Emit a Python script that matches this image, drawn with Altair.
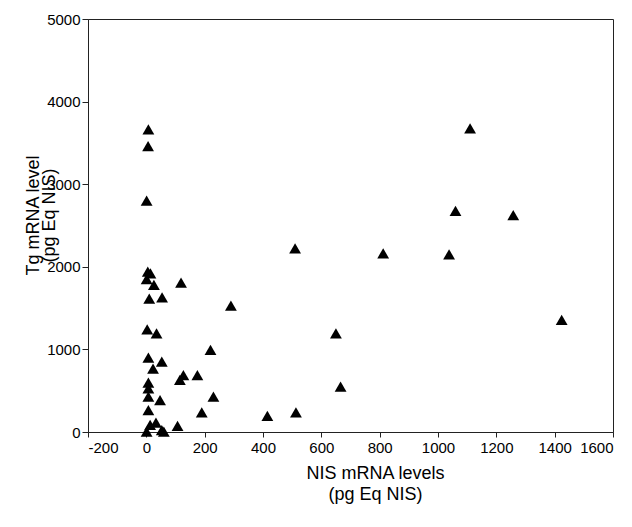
import altair as alt
import pandas as pd

# NIS mRNA levels (pg Eq NIS)
nis = [7, 6, 1, 5, 14, 1, 26, 119, 10, 54, 290, 3, 35, 220, 7, 53, 23,
       127, 115, 175, 7, 7, 7, 47, 230, 7, 190, 415, 107, 13, 33, 1, 53, 60,
       1110, 1060, 1258, 510, 812, 1038, 1424, 650, 666, 513]
# Tg mRNA level (pg Eq NIS)
tg = [3665, 3462, 2800, 1941, 1920, 1852, 1780, 1808, 1614, 1631, 1529, 1243, 1195, 993, 900, 851, 767,
      690, 630, 690, 597, 529, 428, 387, 428, 266, 238, 194, 73, 85, 113, 4, 24, 5,
      3677, 2676, 2627, 2224, 2163, 2151, 1356, 1195, 548, 238]

x_ticks = [-200, 0, 200, 400, 600, 800, 1000, 1200, 1400, 1600]
y_ticks = [0, 1000, 2000, 3000, 4000, 5000]

df = pd.DataFrame({"nis": nis, "tg": tg})

chart = alt.Chart(df).mark_point(
    shape="triangle-up", filled=True, size=140, color="black", opacity=1
).encode(
    x=alt.X("nis:Q",
            scale=alt.Scale(domain=[-200, 1600], nice=False, zero=False),
            axis=alt.Axis(values=x_ticks, labelExpr="'' + datum.value",
                          title=["NIS mRNA levels", "(pg Eq NIS)"],
                          titleX=287, titleY=32, titleBaseline="top",
                          titleLineHeight=21, tickSize=5, labelPadding=3)),
    y=alt.Y("tg:Q",
            scale=alt.Scale(domain=[0, 5000], nice=False),
            axis=alt.Axis(values=y_ticks, labelExpr="'' + datum.value",
                          title=["Tg mRNA level", "(pg Eq NIS)"],
                          titleX=-46, titleY=196, titleBaseline="bottom",
                          titleLineHeight=16, tickSize=6, labelPadding=2)),
).properties(
    width=525, height=413,
    padding={"left": 80, "top": 11, "right": 10, "bottom": 80},
    autosize=alt.AutoSizeParams(type="none"),
).configure_view(
    stroke="#222", strokeWidth=1
).configure_axis(
    grid=False, domainColor="#222", tickColor="#222",
    labelColor="black", titleColor="black",
    labelFont="Liberation Sans", titleFont="Liberation Sans",
    labelFontSize=15, titleFontSize=18, titleFontWeight="normal",
)

chart.save("out.html", embed_options={"renderer": "svg", "actions": False})
